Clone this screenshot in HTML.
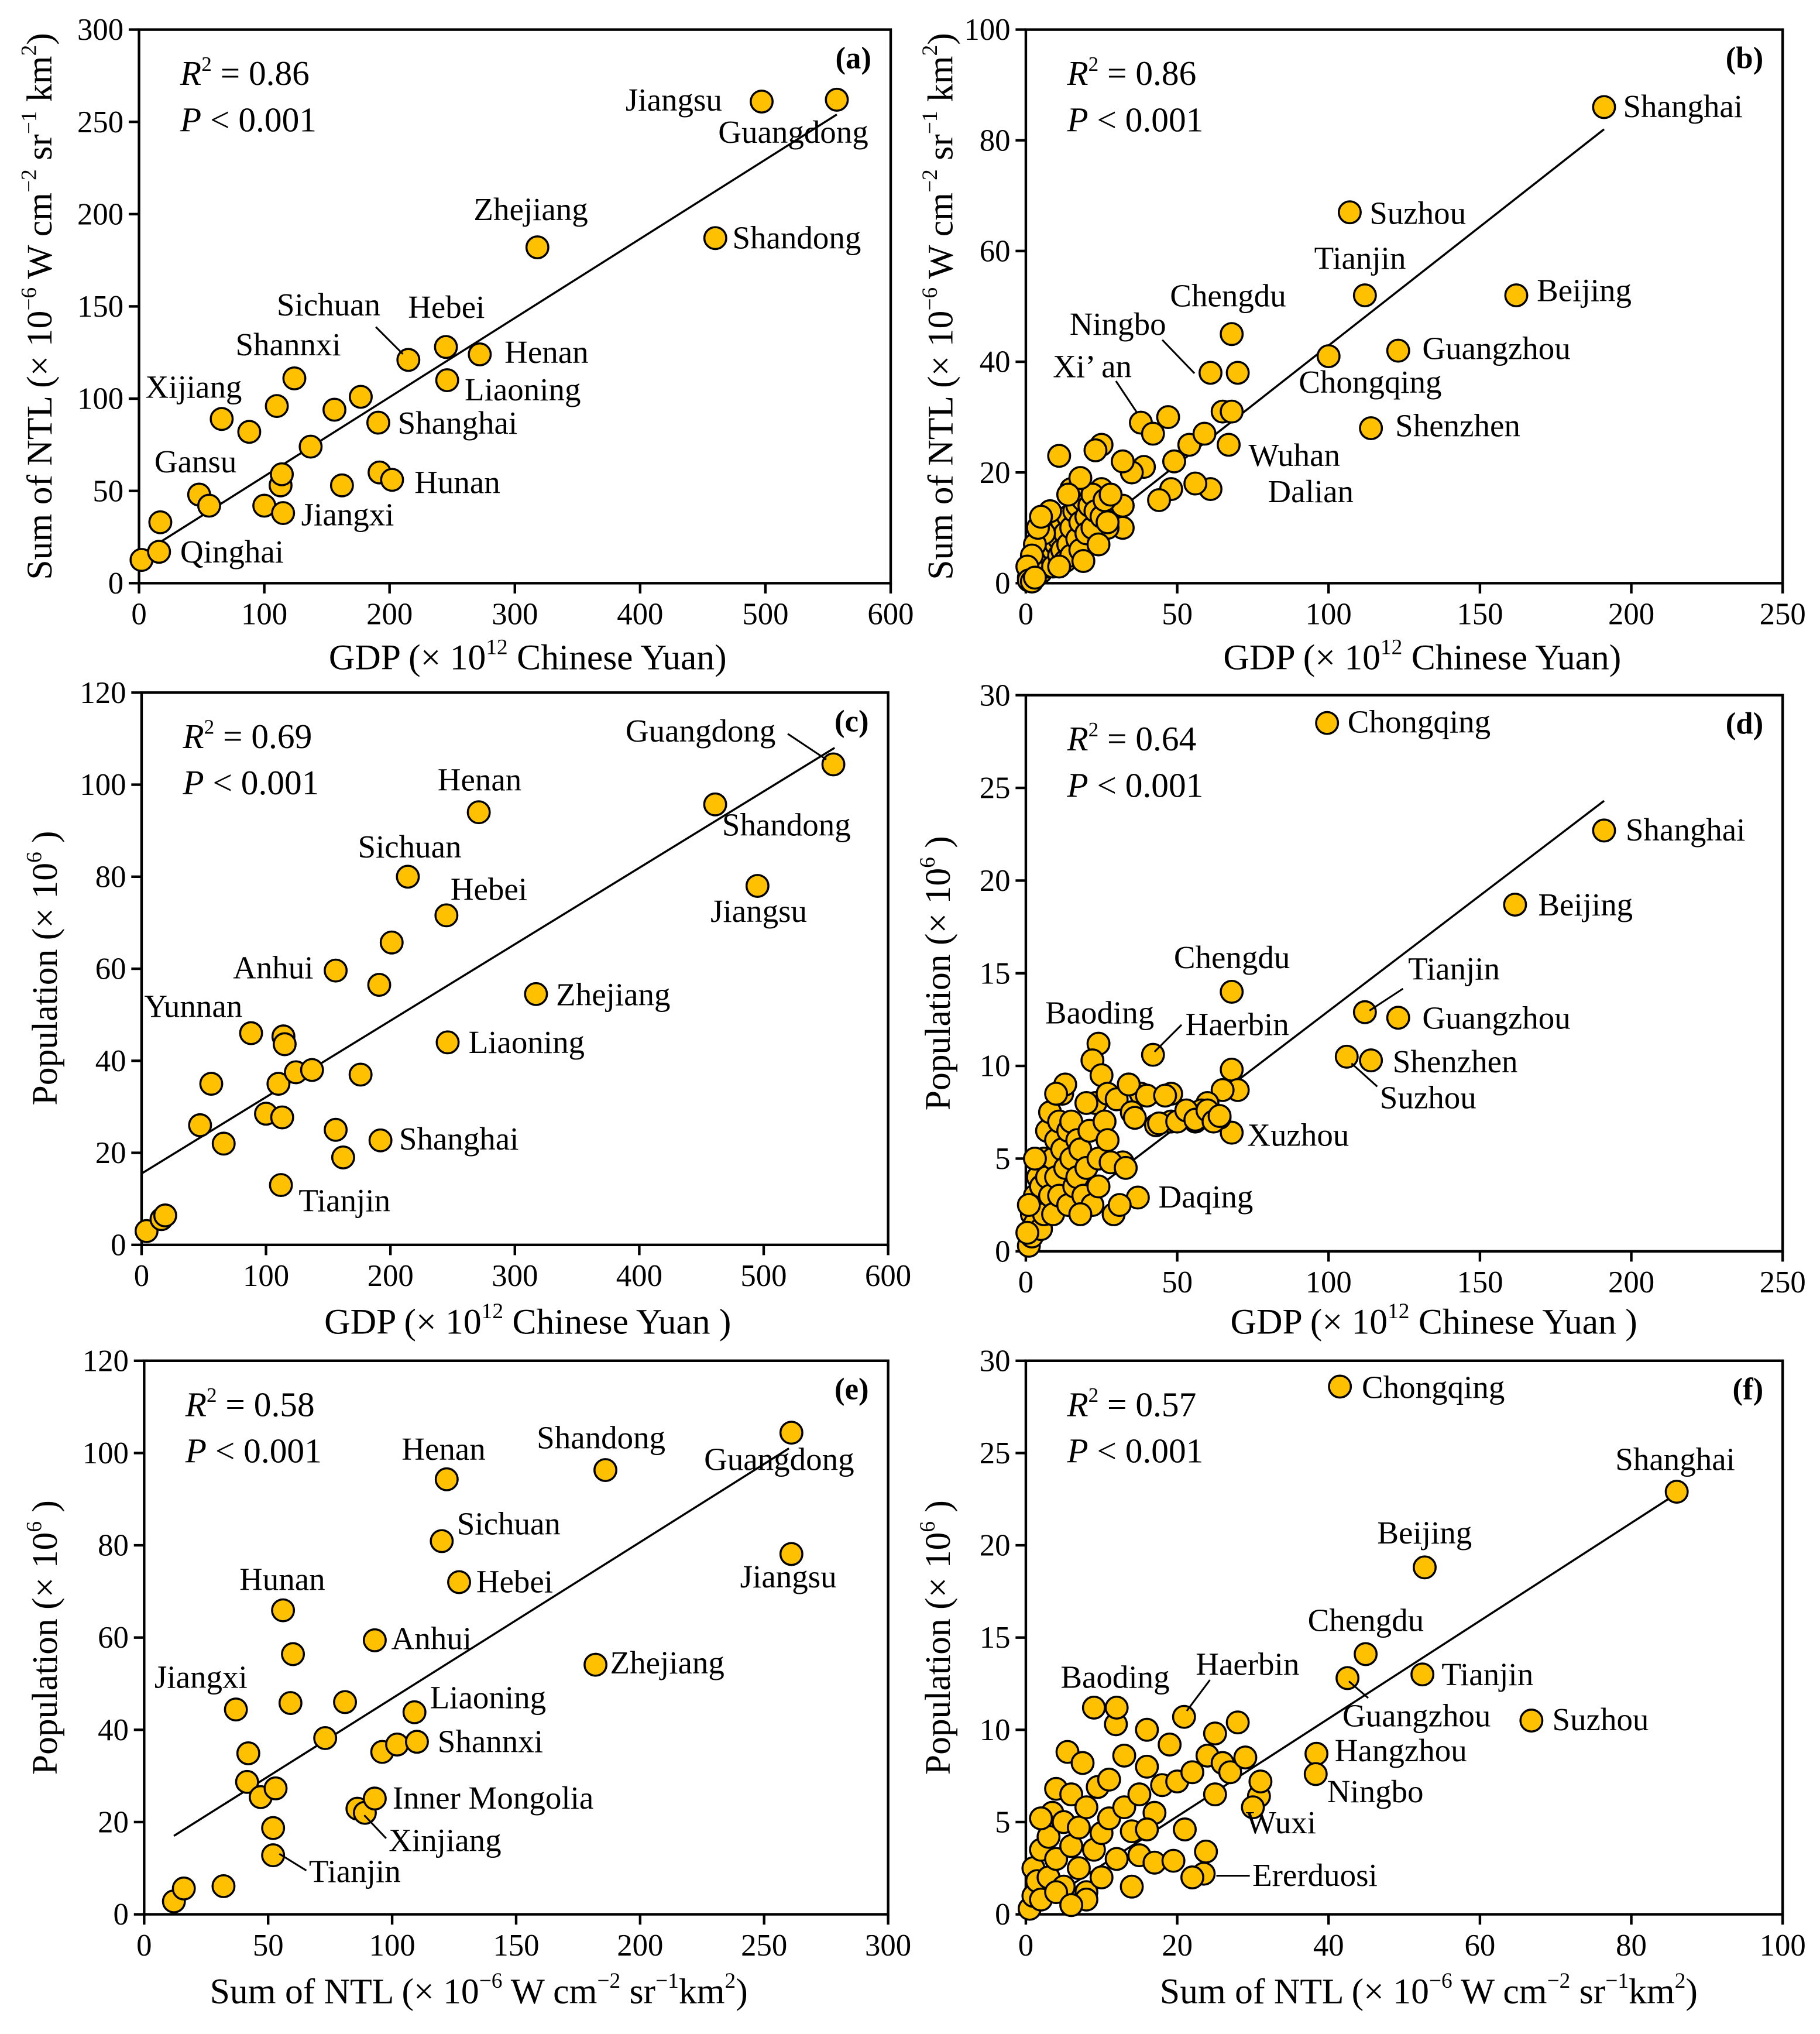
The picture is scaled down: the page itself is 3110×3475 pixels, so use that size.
<!DOCTYPE html>
<html><head><meta charset="utf-8">
<style>
html,body{margin:0;padding:0;background:#fff;}
svg, svg text{font-family:"Liberation Serif","Times New Roman",serif;}
</style></head>
<body>
<svg id="fig" font-family="Liberation Serif, serif" width="3110" height="3470" viewBox="0 0 1414 1577.7" preserveAspectRatio="none" xmlns="http://www.w3.org/2000/svg"></svg>
<script>
// ---------- Panel (a): provinces GDP vs NTL ----------
const aGDP = [2,17,16,48,56,66,88,100,110,113,114,115,124,137,156,162,177,191,192,202,215,245,246,272,318,460,497,557];
const aNTL = [12.6,33,17,48,42,89,82,42,96,53,59,38,111,74,94,53,101,87,60,56,121,128,110,124,182,187,261,262];
const aFit = [15,254];
const aFitX = [0,557];
// ---------- Panel (b): cities GDP vs NTL ----------
const bGDP = [191,107,112,162,123,100,114,68,61,70,65,68,67,61,56,48,44,49,54,59,47,38,42,39,35,32,32,32,25,23,25,11,22,27,20,
1,1.5,2,2,3,3,4,4,5,5,6,6,7,7,8,8,9,9,10,10,11,11,12,12,13,13,14,14,15,15,16,17,17,18,18,19,20,20,21,22,22,23,24,25,26,27,28,19,11,6,3,2,4,8,5,0.5,1,2,3,15,18,14];
const bNTL = [86,67,52,52,42,41,28,45,38,38,31,31,25,17,18,17,15,22,25,27,30,29,27,21,20,22,14,10,25,24,17,23,11,10,16,
1,2,3,1,4,2,5,3,6,2,7,4,3,8,5,9,6,3,7,10,8,5,11,6,9,4,12,7,10,5,13,8,14,11,6,15,12,9,14,16,10,13,7,12,15,11,16,4,3,9,7,5,10,13,12,3,0.5,0.3,1,17,19,16];
const bFit = [0,82];
const bFitX = [0,191];
// ---------- Panel (c): provinces GDP vs Population ----------
const cGDP = [4,16,19,47,56,66,88,100,110,113,114,115,112,124,137,156,156,162,176,191,192,201,214,245,246,271,317,461,495,556];
const cPop = [3,5.6,6.4,26,35,22,46,28.5,35,27.7,45.3,43.6,13,37.5,38,59.6,25,19,37,56.5,22.7,65.7,80,71.6,44,94,54.5,95.7,78,104.4];
const cFit = [15.5,108];
const cFitX = [0,557];
// ---------- Panel (d): cities GDP vs Population ----------
const dGDP = [99.5,191,161.6,68,112,123,114,106,68,37,24,42,68,70,65,48,60,58,56,64,48,43,38,34,32,
1,2,2,3,3,4,4,5,5,6,6,7,7,8,8,9,9,10,10,11,11,12,12,13,13,14,14,15,15,16,17,17,18,19,20,21,22,22,23,24,24,25,26,27,28,29,30,31,33,34,35,36,40,44,46,50,53,56,60,62,64,3,1,18,27,20,10,0.5];
const dPop = [28.5,22.7,18.7,14,12.9,12.6,10.3,10.5,6.4,2.9,11.2,10.6,9.8,8.7,8.7,8.5,8,7.6,7,7.2,7,6.8,8.5,9,4.8,
0.3,0.8,2,1.5,3,2.5,4,1.2,3.5,5,2,4,6.5,3,7.5,5,2,6,4,7,3,5.5,8.5,4.5,9,6.5,2.5,5,7,3.5,6,4,5.5,3,4.5,6.5,2.5,10.3,8,5,3.5,9.5,7,8.5,4.8,2,8.2,2.5,4.5,9,7.5,7.2,8.4,6.9,8.4,7,7.6,7.1,7.6,7,7.3,5,2.5,2,6,8,8.5,1];
const dFit = [0.5,24.3];
const dFitX = [0,191];
// ---------- Panel (e): provinces NTL vs Population ----------
const eNTL = [12,16,32,37,42,41.5,47,53,52,52,56,60,59,73,81,86,89,93,93,96,102,109,110,120,122,127,182,186,261,261];
const ePop = [2.8,5.6,6.1,44.4,34.9,28.7,25.4,27.3,18.7,12.8,65.9,56.4,45.8,38.2,46,22.9,22,25.1,59.4,35.2,36.8,43.8,37.4,80.9,94.3,72,54.1,96.3,78.1,104.4];
const eFit = [17,101];
const eFitX = [12,260];
// ---------- Panel (f): cities NTL vs Population ----------
const fNTL = [41.5,86,52.7,44.9,52.4,42.5,66.8,38.4,38.3,30.8,23.5,22,23.8,11.9,20.9,
0.5,1,1,1.5,2,2,3,3,3.5,4,4,5,5,5.5,6,6,7,7,7.5,8,8,9,9,9.5,10,10,11,11,12,12,13,13,14,14,15,15,16,16,17,17,18,19,19.5,20,21,22,24,25,25,26,27,28,29,31,30,16,8,2,4,6];
const fPop = [28.6,22.9,18.8,14.1,13,12.8,10.5,8.7,7.6,6.4,2.2,2,3.4,10.3,10.7,
0.3,1,2.5,1.8,3.5,0.8,4.2,2,5.5,3,6.8,1.5,5,8.8,3.7,6.5,2.5,4.7,8.2,5.8,1.2,3.5,11.2,6.9,4.4,2,5.2,7.3,11.2,3,8.6,5.8,4.5,1.5,6.5,3.2,10,8,5.5,2.8,7,9.2,2.9,7.2,4.6,7.7,8.6,9.8,6.5,8.2,7.7,10.4,8.5,7.2,5.8,4.6,0.8,5.2,1.2,0.5];
const fFit = [0,22.8];
const fFitX = [0,86];

const aXTicks = [0,100,200,300,400,500,600], aYTicks = [0,50,100,150,200,250,300];
const bXTicks = [0,50,100,150,200,250], bYTicks = [0,20,40,60,80,100];
const cXTicks = [0,100,200,300,400,500,600], cYTicks = [0,20,40,60,80,100,120];
const dXTicks = [0,50,100,150,200,250], dYTicks = [0,5,10,15,20,25,30];
const eXTicks = [0,50,100,150,200,250,300], eYTicks = [0,20,40,60,80,100,120];
const fXTicks = [0,20,40,60,80,100], fYTicks = [0,5,10,15,20,25,30];

const NS = "http://www.w3.org/2000/svg";
const FONT = '"Liberation Serif", "Times New Roman", serif';
const svg = document.getElementById('fig');
function mk(tag, attrs, parent){
  const e = document.createElementNS(NS, tag);
  for (const k in attrs) e.setAttribute(k, attrs[k]);
  if (tag === 'text') e.setAttribute('font-family', FONT);
  (parent||svg).appendChild(e);
  return e;
}

function panel(id, box, xTicks, yTicks, xs, ys, fitX, fitY, r2, letter, labels, leaders){
  const g = mk('g', {});
  
  
  const [L, R, T, B] = box;
  const xMax = xTicks[xTicks.length-1], yMax = yTicks[yTicks.length-1];
  const sx = v => L + (R-L) * v / xMax;
  const sy = v => B - (B-T) * v / yMax;
  const frame = mk('rect', {x:L, y:T, width:R-L, height:B-T, fill:'none', stroke:'#000', 'stroke-width':2}, g);
  
  
  xTicks.forEach(t => {
    const ln = mk('line', {x1:sx(t), x2:sx(t), y1:B, y2:B+8, stroke:'#000', 'stroke-width':2}, g);
    
    
    const tx = mk('text', {x:sx(t), y:B+32, 'font-size':24, 'text-anchor':'middle'}, g);
    tx.textContent = t;
    
    
  });
  yTicks.forEach(t => {
    const ln = mk('line', {x1:L-8, x2:L, y1:sy(t), y2:sy(t), stroke:'#000', 'stroke-width':2}, g);
    
    
    const tx = mk('text', {x:L-12, y:sy(t)+8, 'font-size':24, 'text-anchor':'end'}, g);
    tx.textContent = t;
    
    
  });
  const fl = mk('line', {x1:sx(fitX[0]), y1:sy(fitY[0]), x2:sx(fitX[1]), y2:sy(fitY[1]), stroke:'#000', 'stroke-width':1.6}, g);
  
  
  for (let i = 0; i < xs.length; i++){
    const c = mk('circle', {cx:sx(xs[i]), cy:sy(ys[i]), r:8.5, fill:'#FFC000', stroke:'#000', 'stroke-width':1.6}, g);
    
    
  }
  leaders.forEach(l => {
    const ln = mk('line', {x1:l[0], y1:l[1], x2:l[2], y2:l[3], stroke:'#000', 'stroke-width':1.4}, g);
    
    
  });
  labels.forEach(l => {
    const tx = mk('text', {x:l[1], y:l[2], 'font-size':25}, g);
    tx.textContent = l[0];
    
    
  });
  const st = mk('text', {x:L+32, y:T+43, 'font-size':27}, g);
  st.innerHTML = '<tspan font-style="italic">R</tspan><tspan font-size="16" dy="-11">2</tspan><tspan dy="11"> = ' + r2 + '</tspan>';
  
  
  const pt = mk('text', {x:L+32, y:T+79, 'font-size':27}, g);
  pt.innerHTML = '<tspan font-style="italic">P</tspan> &lt; 0.001';
  
  
  const lt = mk('text', {x:R-15, y:T+30, 'font-size':24, 'font-weight':'bold', 'text-anchor':'end'}, g);
  lt.textContent = '(' + letter + ')';
  
  
}

function axisTitle(html, x, y, rot, name){
  const t = mk('text', {x:x, y:y, 'font-size':28, 'text-anchor':'middle', transform: rot ? 'rotate(-90 '+x+' '+y+')' : ''});
  t.innerHTML = html;
  
  
}
const sup = s => '<tspan font-size="17" dy="-12">' + s + '</tspan><tspan dy="12">';
const ntlY = 'Sum of NTL (× 10' + sup('−6') + ' W cm</tspan>' + sup('−2') + ' sr</tspan>' + sup('−1') + ' km</tspan>' + sup('2') + ')</tspan>';
const ntlX = 'Sum of NTL (× 10' + sup('−6') + ' W cm</tspan>' + sup('−2') + ' sr</tspan>' + sup('−1') + 'km</tspan>' + sup('2') + ')</tspan>';
const gdpX = 'GDP  (× 10' + sup('12') + ' Chinese Yuan)</tspan>';
const gdpX2 = 'GDP  (× 10' + sup('12') + ' Chinese Yuan )</tspan>';
const popY = 'Population (× 10' + sup('6') + ' )</tspan>';

panel('a', [108,692,23,453], aXTicks, aYTicks, aGDP, aNTL, aFitX, aFit, '0.86', 'a',
  [['Jiangsu',486,86],['Guangdong',558,111],['Zhejiang',368,171],['Shandong',569,193],['Sichuan',215,245],['Hebei',317,247],
   ['Henan',392,282],['Liaoning',361,311],['Shannxi',183,276],['Xijiang',113,309],['Shanghai',309,337],['Gansu',120,367],
   ['Hunan',322,383],['Jiangxi',234,408],['Qinghai',140,437]],
  [[292,254,313,275]]);
panel('b', [797,1385,23,453], bXTicks, bYTicks, bGDP, bNTL, bFitX, bFit, '0.86', 'b',
  [['Shanghai',1261,91],['Suzhou',1064,174],['Tianjin',1021,209],['Beijing',1194,234],['Chengdu',909,238],['Ningbo',831,260],
   ['Guangzhou',1105,279],['Xi’  an',818,293],['Chongqing',1009,305],['Shenzhen',1084,339],['Wuhan',970,362],['Dalian',985,390]],
  [[903,264,928,290],[867,296,883,320]]);
panel('c', [110,690,538,967], cXTicks, cYTicks, cGDP, cPop, cFitX, cFit, '0.69', 'c',
  [['Guangdong',486,576],['Henan',340,614],['Shandong',561,649],['Sichuan',278,666],['Hebei',350,699],['Jiangsu',552,716],
   ['Anhui',181,760],['Yunnan',112,790],['Zhejiang',432,781],['Liaoning',364,818],['Shanghai',310,893],['Tianjin',232,941]],
  [[612,570,642,590]]);
panel('d', [797,1385,540,972], dXTicks, dYTicks, dGDP, dPop, dFitX, dFit, '0.64', 'd',
  [['Chongqing',1047,569],['Shanghai',1263,653],['Beijing',1195,711],['Chengdu',912,752],['Tianjin',1094,761],['Baoding',812,795],
   ['Haerbin',921,804],['Guangzhou',1105,799],['Shenzhen',1082,833],['Suzhou',1072,861],['Xuzhou',969,890],['Daqing',900,938]],
  [[918,796,897,817],[1090,768,1064,785],[1070,844,1050,826]]);
panel('e', [112,690,1057,1487], eXTicks, eYTicks, eNTL, ePop, eFitX, eFit, '0.58', 'e',
  [['Shandong',417,1125],['Henan',312,1134],['Guangdong',547,1142],['Sichuan',355,1192],['Hunan',186,1235],['Hebei',370,1237],
   ['Jiangsu',575,1233],['Anhui',304,1281],['Zhejiang',474,1300],['Jiangxi',120,1311],['Liaoning',334,1327],['Shannxi',340,1361],
   ['Inner Mongolia',305,1405],['Xinjiang',302,1438],['Tianjin',240,1462]],
  [[300,1428,283,1410],[238,1453,217,1440]]);
panel('f', [797,1385,1057,1487], fXTicks, fYTicks, fNTL, fPop, fFitX, fFit, '0.57', 'f',
  [['Chongqing',1058,1086],['Shanghai',1255,1142],['Beijing',1070,1199],['Chengdu',1016,1267],['Baoding',824,1311],['Haerbin',929,1301],
   ['Tianjin',1120,1309],['Guangzhou',1043,1341],['Suzhou',1206,1344],['Hangzhou',1037,1368],['Ningbo',1031,1400],['Wuxi',968,1424],['Ererduosi',973,1465]],
  [[940,1305,922,1329],[1063,1319,1048,1306],[971,1457,945,1457]]);

axisTitle(ntlY, 40, 238, true, 'y-axis-title-a');
axisTitle(ntlY, 740, 238, true, 'y-axis-title-b');
axisTitle(popY, 44, 752, true, 'y-axis-title-c');
axisTitle(popY, 738, 756, true, 'y-axis-title-d');
axisTitle(popY, 44, 1272, true, 'y-axis-title-e');
axisTitle(popY, 738, 1272, true, 'y-axis-title-f');
axisTitle(gdpX, 410, 520, false, 'x-axis-title-a');
axisTitle(gdpX, 1105, 520, false, 'x-axis-title-b');
axisTitle(gdpX2, 410, 1036, false, 'x-axis-title-c');
axisTitle(gdpX2, 1114, 1036, false, 'x-axis-title-d');
axisTitle(ntlX, 372, 1556, false, 'x-axis-title-e');
axisTitle(ntlX, 1110, 1556, false, 'x-axis-title-f');
</script>
</body></html>
